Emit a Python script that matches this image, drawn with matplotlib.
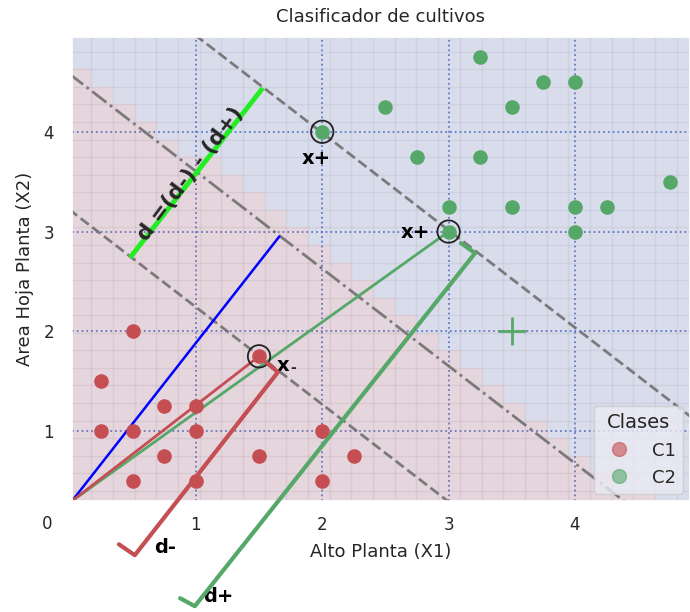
import numpy as np
import matplotlib.pyplot as plt
import seaborn as sns
from matplotlib.colors import ListedColormap, to_rgba
from matplotlib.lines import Line2D

sns.set_theme(style='darkgrid')

# muestras por clase (alto, area hoja)
c1_x = [0.5, 0.25, 0.25, 0.5, 0.75, 1, 1, 0.75, 0.5, 1, 1.5, 1.5, 2, 2, 2.25]
c1_y = [2, 1.5, 1, 1, 1.25, 1.25, 1, 0.75, 0.5, 0.5, 1.75, 0.75, 1, 0.5, 0.75]
c2_x = [3.25, 3.75, 4, 2.5, 3.5, 2, 2.75, 3.25, 4.75, 3, 3.5, 4, 4.25, 3, 4]
c2_y = [4.75, 4.5, 4.5, 4.25, 4.25, 4, 3.75, 3.75, 3.5, 3.25, 3.25, 3.25, 3.25, 3, 3]

# vectores soporte
sv_x = [2, 3, 1.5]
sv_y = [4, 3, 1.75]

# hiperplano w.x + b = 0
w = [0.717, 0.735]
b = -3.366

centro = (3.5, 2)
origen = (0.02, 0.3)

# trazos de distancias
azul_x = [origen[0], 1.66]
azul_y = [origen[1], 2.95]
d_x = [0.48, 1.53]
d_y = [2.74, 4.44]
dmenos_x = [1.556, 1.649, 0.517, 0.391]
dmenos_y = [1.691, 1.591, -0.243, -0.134]
dmas_x = [3.098, 3.209, 0.992, 0.875]
dmas_y = [2.884, 2.784, -0.754, -0.674]

rojo = '#c44e52'
verde = '#55a868'

fig = plt.figure(figsize=(6.9, 6.12), dpi=100)
ax = fig.add_axes([72 / 690, 111 / 612, 618 / 690, 464 / 612])
x_min, x_max = 0.02, 4.91
y_min, y_max = 0.3, 4.95

# regiones de decision sobre la malla
gx = np.arange(0, 5.1, 0.1716)
gy = np.arange(0.05, 5.1, 0.176)
xx, yy = np.meshgrid(gx, gy)
zz = (w[0] * xx + w[1] * yy + b > 0).astype(int)
cmap = ListedColormap([to_rgba(rojo, 0.13), to_rgba('#4c72b0', 0.1)])
ax.pcolormesh(xx, yy, zz[:-1, :-1], cmap=cmap, shading='flat',
              edgecolors='none', antialiased=False)
ax.vlines(gx, -1, 6, color='#503050', lw=1, alpha=0.07)
ax.hlines(gy, -1, 6, color='#503050', lw=1, alpha=0.07)

# frontera y margenes
xs = np.array([-1, 6])
for k, ls in [(-1, '--'), (0, '-.'), (1, '--')]:
    ax.plot(xs, (k - b - w[0] * xs) / w[1], color='#707070', ls=ls, lw=2, alpha=0.9)

ax.scatter(c1_x, c1_y, s=90, color=rojo, zorder=3)
ax.scatter(c2_x, c2_y, s=90, color=verde, zorder=3)
ax.scatter(sv_x, sv_y, s=260, facecolors='none', edgecolors='#222222', lw=1.3, zorder=4)
ax.plot(*centro, marker='+', ms=20, mew=2, color=verde)

ax.plot(azul_x, azul_y, color='blue', lw=1.8)
ax.plot([origen[0], sv_x[1]], [origen[1], sv_y[1]], color=verde, lw=2)
ax.plot([origen[0], sv_x[2]], [origen[1], sv_y[2]], color=rojo, lw=2)
ax.plot(d_x, d_y, color='#22ee22', lw=3.5, solid_capstyle='butt')
ax.plot(dmenos_x, dmenos_y, color=rojo, lw=3, clip_on=False, zorder=5)
ax.plot(dmas_x, dmas_y, color=verde, lw=3, clip_on=False, zorder=5)

txt = dict(fontsize=14, fontweight='bold', color='black', ha='center', va='center')
ax.text(1.95, 3.73, 'x+', **txt)
ax.text(2.74, 2.99, 'x+', **txt)
ax.text(1.69, 1.66, 'x', **txt)
ax.text(1.77, 1.63, '-', fontsize=10, fontweight='bold', ha='center', va='center')
ax.text(0.76, -0.17, 'd-', clip_on=False, **txt)
ax.text(1.18, -0.66, 'd+', clip_on=False, **txt)
ax.text(0.96, 3.58, 'd =(d-) - (d+)', rotation=53, fontsize=15.5, fontweight='bold',
        ha='center', va='center')
ax.text(-0.18, 0.07, '0', fontsize=12, color='#262626', ha='center', va='center')

ax.set_xlim(x_min, x_max)
ax.set_ylim(y_min, y_max)
ax.set_xticks([1, 2, 3, 4])
ax.set_yticks([1, 2, 3, 4])
ax.tick_params(labelsize=12)
ax.tick_params(axis='x', pad=5)
ax.tick_params(axis='y', pad=7)
ax.grid(True, color='#4060c0', ls=':', lw=1.3, alpha=0.8)
ax.set_title('Clasificador de cultivos', fontsize=13, pad=11)
ax.set_xlabel('Alto Planta (X1)', fontsize=13, labelpad=6)
ax.set_ylabel('Area Hoja Planta (X2)', fontsize=13, labelpad=7)

handles = [Line2D([], [], ls='', marker='o', ms=10, color=rojo, alpha=0.6),
           Line2D([], [], ls='', marker='o', ms=10, color=verde, alpha=0.6)]
ax.legend(handles, ['C1', 'C2'], title='Clases', loc='lower right', fontsize=13,
          title_fontsize=14, borderaxespad=0.4)

fig.savefig('out.png', dpi=100)
